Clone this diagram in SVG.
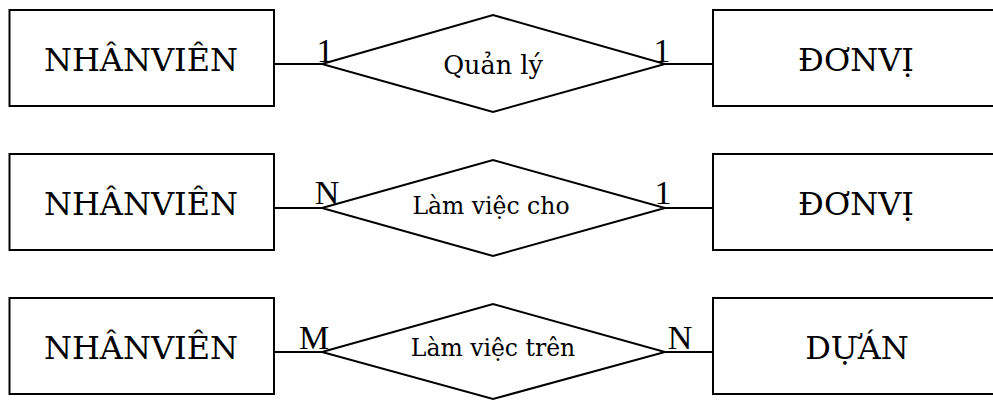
<svg xmlns="http://www.w3.org/2000/svg" width="993" height="401" viewBox="0 0 993 401">
<style>
.box{fill:#fff;stroke:#000;stroke-width:2}
.rel{fill:#fff;stroke:#000;stroke-width:2}
.ln{stroke:#000;stroke-width:2;fill:none}
.t{fill:#000;text-anchor:middle}
.vi{font-family:'DejaVu Serif','Liberation Serif',serif}
.ent{font-size:32px}
.rl{font-size:23.5px}
.card{font-size:34px;font-family:'Liberation Serif','Times New Roman',serif}
</style>
<rect width="993" height="401" fill="#fff"/>
<g id="connectors">
<line class="ln" x1="274" y1="64" x2="322" y2="64"/>
<line class="ln" x1="665" y1="64" x2="713" y2="64"/>
<line class="ln" x1="274" y1="208" x2="322" y2="208"/>
<line class="ln" x1="665" y1="208" x2="713" y2="208"/>
<line class="ln" x1="274" y1="352" x2="322" y2="352"/>
<line class="ln" x1="665" y1="352" x2="713" y2="352"/>
<text class="t card" x="325" y="62">1</text>
<text class="t card" x="662" y="62">1</text>
<text class="t card" x="327" y="204">N</text>
<text class="t card" x="663" y="204">1</text>
<text class="t card" x="314" y="349">M</text>
<text class="t card" x="680" y="349">N</text>
</g>
<g id="nv1"><rect class="box" x="9.5" y="10" width="264.5" height="96"/><text class="t vi ent" x="141" y="71">NHÂNVIÊN</text></g>
<g id="ql"><polygon class="rel" points="322,64 493,15 665,64 493,112"/><text class="t vi rl" x="493" y="74" style="font-size:25.5px">Quản lý</text></g>
<g id="dv1"><rect class="box" x="713" y="10" width="290" height="96"/><text class="t vi ent" x="856" y="71">ĐƠNVỊ</text></g>
<g id="nv2"><rect class="box" x="9.5" y="154" width="264.5" height="96"/><text class="t vi ent" x="141" y="215">NHÂNVIÊN</text></g>
<g id="lvc"><polygon class="rel" points="322,208 493,160 665,208 493,256"/><text class="t vi rl" x="491" y="214">Làm việc cho</text></g>
<g id="dv2"><rect class="box" x="713" y="154" width="290" height="96"/><text class="t vi ent" x="856" y="215">ĐƠNVỊ</text></g>
<g id="nv3"><rect class="box" x="9.5" y="298" width="264.5" height="96"/><text class="t vi ent" x="141" y="359">NHÂNVIÊN</text></g>
<g id="lvt"><polygon class="rel" points="322,352 493,304 665,352 493,399"/><text class="t vi rl" x="493" y="356">Làm việc trên</text></g>
<g id="da"><rect class="box" x="713" y="298" width="290" height="96"/><text class="t vi ent" x="857" y="359">DỰÁN</text></g>
</svg>
